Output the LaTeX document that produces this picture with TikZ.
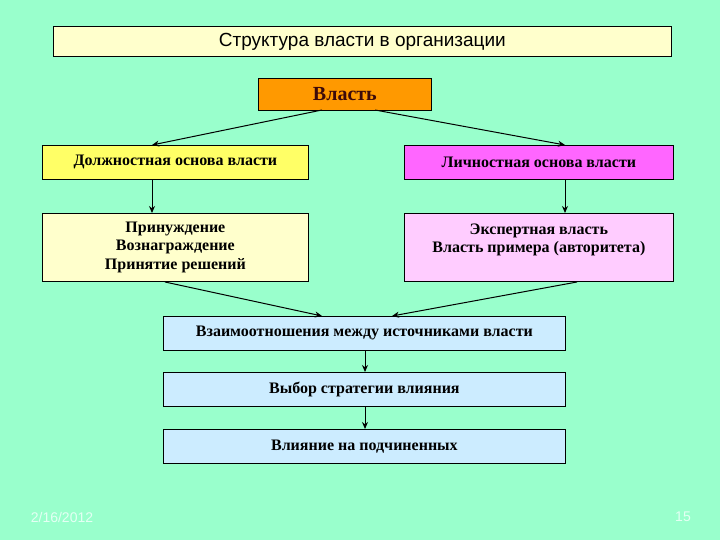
\documentclass[tikz,border=0pt]{standalone}
\usepackage{fontspec}
\setmainfont{Liberation Serif}
\setsansfont{Liberation Sans}
\usetikzlibrary{arrows.meta}
\definecolor{bg}{HTML}{99FFCC}
\definecolor{ltyellow}{HTML}{FFFFCC}
\definecolor{yel}{HTML}{FFFF66}
\definecolor{mag}{HTML}{FF66FF}
\definecolor{pink}{HTML}{FFCCFF}
\definecolor{ltblue}{HTML}{CCECFF}
\definecolor{orng}{HTML}{FF9900}
\definecolor{foot}{HTML}{E4FFF4}
\tikzset{
  box/.style={draw=black, line width=0.8pt, inner sep=0pt, anchor=north west,
    font=\fontsize{16}{18.5}\selectfont\bfseries, align=center},
  arr/.style={draw=black, line width=1pt, -{Stealth[length=7pt,width=6pt]}},
}
\begin{document}
\begin{tikzpicture}[x=1pt,y=-1pt]
\fill[bg] (0,0) rectangle (720,540);
\useasboundingbox (0,0) rectangle (720,540);
\node[box, fill=ltyellow, minimum width=618pt, minimum height=30pt,
  font=\sffamily\fontsize{19}{21}\selectfont] (title) at (53,26) {Структура власти в организации};
\node[box, fill=orng, minimum width=173pt, minimum height=32pt,
  font=\fontsize{20}{22}\selectfont\bfseries, text={rgb,255:red,60;green,10;blue,10}] (vl) at (258,78) {Власть};
\node[box, fill=yel, minimum width=266pt, minimum height=34pt] (dol) at (42,145) {Должностная основа власти};
\node[box, fill=mag, minimum width=269pt, minimum height=34pt] (lich) at (404,145) {Личностная основа власти};
\node[box, fill=ltyellow, minimum width=266pt, minimum height=68pt] (prin) at (42,213) {Принуждение\\Вознаграждение\\Принятие решений};
\node[box, fill=pink, minimum width=269pt, minimum height=68pt] (eksp) at (404,213) {Экспертная власть\\Власть примера (авторитета)\\\mbox{}};
\node[box, fill=ltblue, minimum width=402pt, minimum height=34pt] (vz) at (163,316) {Взаимоотношения между источниками власти};
\node[box, fill=ltblue, minimum width=402pt, minimum height=34pt] (vyb) at (163,372) {Выбор стратегии влияния};
\node[box, fill=ltblue, minimum width=402pt, minimum height=34pt] (vli) at (163,429) {Влияние на подчиненных};
\coordinate (vlL) at (322,110);
\coordinate (vlR) at (375,110);
\draw[arr] (vlL) -- (152,145);
\draw[arr] (vlR) -- (565,145);
\draw[arr] (dol.south -| 152,0) -- (prin.north -| 152,0);
\draw[arr] (lich.south -| 565,0) -- (eksp.north -| 565,0);
\draw[arr] (165,282) -- (322,316);
\draw[arr] (577,282) -- (392,316);
\draw[arr] (vz.south -| 365,0) -- (vyb.north -| 365,0);
\draw[arr] (vyb.south -| 365,0) -- (vli.north -| 365,0);
\node[font=\sffamily\fontsize{14}{16}\selectfont, text=foot] (date) at (62,517) {2/16/2012};
\node[font=\sffamily\fontsize{14}{16}\selectfont, text=foot] (num) at (683,517) {15};
\end{tikzpicture}
\end{document}
